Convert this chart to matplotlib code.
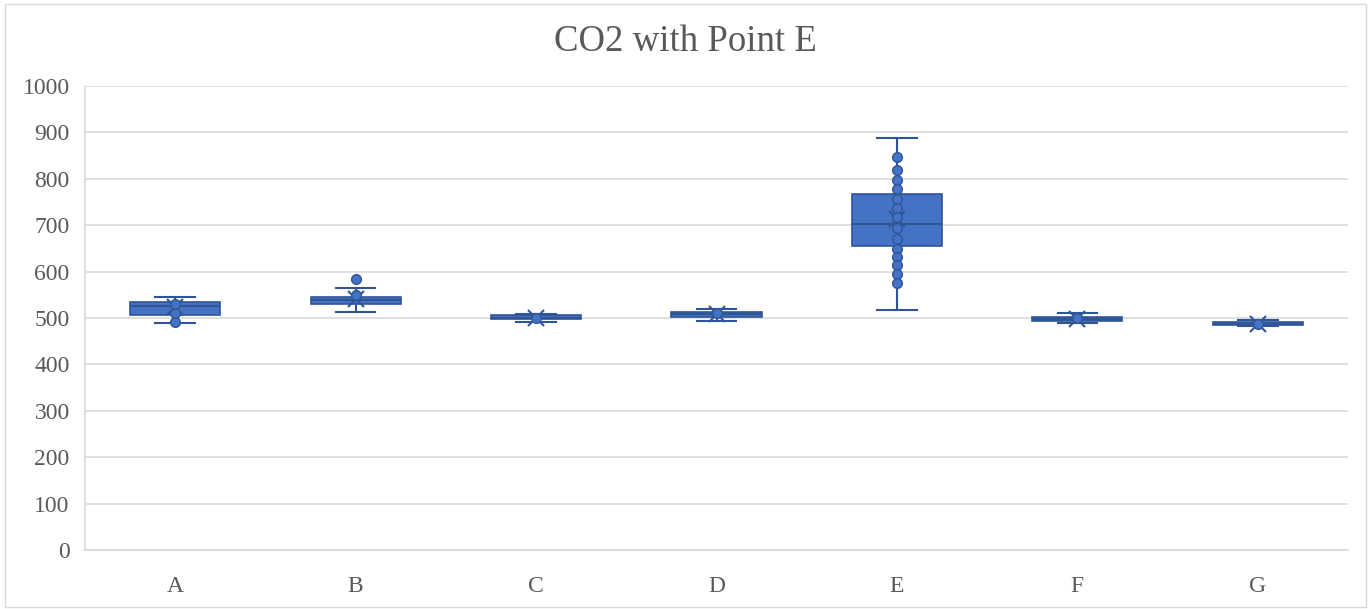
import matplotlib.pyplot as plt
from matplotlib.patches import Rectangle

# box statistics
cats = ['A', 'B', 'C', 'D', 'E', 'F', 'G']
whislo = [489, 514, 492, 493, 517, 489, 483]
q1 = [506, 530, 497, 503, 655, 493, 485]
med = [526, 538, 501, 508, 702, 498, 488]
q3 = [535, 546, 506, 514, 767, 503, 492]
whishi = [546, 564, 509, 519, 887, 510, 495]
means = [524, 542, 500, 508, 713, 498, 488]

# inner / outlier points shown on the chart
points = {
    'A': [492, 511, 530],
    'B': [583, 549],
    'C': [499],
    'D': [510],
    'E': [848, 818, 797, 777, 756, 738, 718, 695, 670, 649, 632, 614, 595, 575],
    'F': [500],
    'G': [488],
}

fill = '#4472C4'
edge = '#2F5597'

fig = plt.figure(figsize=(13.71, 6.09), dpi=100)
ax = fig.add_axes([85 / 1371, 1 - 550 / 609, (1348 - 85) / 1371, (550 - 86) / 609])

stats = []
for i, c in enumerate(cats):
    stats.append(dict(label=c, whislo=whislo[i], q1=q1[i], med=med[i],
                      q3=q3[i], whishi=whishi[i], mean=means[i], fliers=[]))

pos = list(range(1, len(cats) + 1))
ax.bxp(stats, positions=pos, widths=0.5, patch_artist=True, showmeans=True,
       boxprops=dict(facecolor=fill, edgecolor=edge, linewidth=1.2),
       medianprops=dict(color=edge, linewidth=1.5),
       whiskerprops=dict(color=edge, linewidth=1.5),
       capprops=dict(color=edge, linewidth=1.5),
       capwidths=0.22,
       meanprops=dict(marker='x', markersize=12, markeredgecolor=edge,
                      markeredgewidth=1.5),
       zorder=3)

for p, c in zip(pos, cats):
    vals = points[c]
    ax.plot([p] * len(vals), vals, 'o', ms=7, mfc=fill, mec=edge, mew=1, zorder=4)

ax.set_xlim(0.5, 7.5)
ax.set_ylim(0, 1000)
ax.set_yticks(range(0, 1001, 100))
ax.grid(axis='y', color='#D9D9D9', linewidth=1.2)
ax.set_axisbelow(True)
ax.tick_params(length=0, labelsize=17, labelcolor='#595959')
ax.tick_params(axis='y', pad=11)
ax.tick_params(axis='x', pad=19)
for lab in ax.get_xticklabels() + ax.get_yticklabels():
    lab.set_family('Liberation Serif')
for s in ['top', 'right']:
    ax.spines[s].set_visible(False)
ax.spines['left'].set_color('#D9D9D9')
ax.spines['bottom'].set_color('#D9D9D9')
ax.spines['left'].set_linewidth(1.2)
ax.spines['bottom'].set_linewidth(1.2)

fig.text(0.5, 1 - 42 / 609, 'CO2 with Point E', ha='center', va='center',
         fontsize=26.5, color='#595959', family='Liberation Serif')

fig.patches.append(Rectangle((5 / 1371, 2 / 609), 1361 / 1371, 603 / 609,
                             transform=fig.transFigure, fill=False,
                             edgecolor='#D9D9D9', linewidth=1))

fig.savefig('out.png', dpi=100)
